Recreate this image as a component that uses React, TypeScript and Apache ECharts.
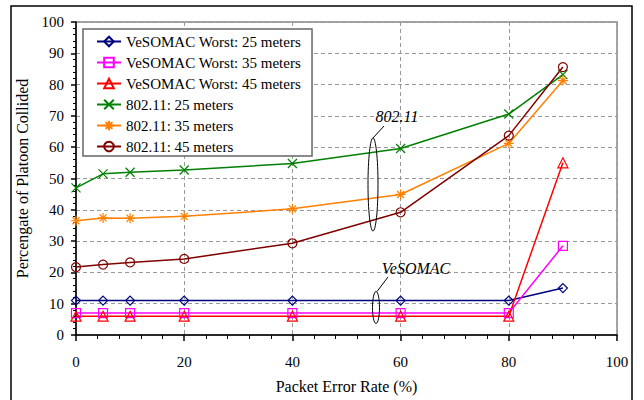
import React, { useEffect, useRef } from "react";
import * as echarts from "echarts";

const packetErrorRates = [0, 5, 10, 20, 40, 60, 80, 90];
const vesomac25 = [11, 11, 11, 11, 11, 11, 11, 15];
const vesomac35 = [7, 7, 7, 7, 7, 7, 7, 28.5];
const vesomac45 = [6, 6, 6, 6, 6, 6, 6, 55];
const wifi25 = [47, 51.5, 52, 52.7, 54.8, 59.6, 70.6, 83.2];
const wifi35 = [36.5, 37.4, 37.3, 37.9, 40.3, 44.9, 61.2, 81.3];
const wifi45 = [21.7, 22.5, 23.2, 24.3, 29.3, 39.2, 63.7, 85.6];

const seriesNames = [
  "VeSOMAC Worst: 25 meters",
  "VeSOMAC Worst: 35 meters",
  "VeSOMAC Worst: 45 meters",
  "802.11: 25 meters",
  "802.11: 35 meters",
  "802.11: 45 meters",
];
const seriesValues = [vesomac25, vesomac35, vesomac45, wifi25, wifi35, wifi45];
const seriesColors = ["#000080", "#FF00FF", "#FF0000", "#008000", "#FF8000", "#800000"];

const FONT = "Times New Roman";

const crossPath = "path://M0,0L10,10M10,0L0,10";
const starPath = "path://M5,0L5,10M0,5L10,5M1.5,1.5L8.5,8.5M8.5,1.5L1.5,8.5";
const seriesSymbols = ["diamond", "rect", "triangle", crossPath, starPath, "circle"];
const seriesSizes = [9, 9, 10, 9, 10, 9];

export default function App() {
  const ref = useRef<HTMLDivElement>(null);
  useEffect(() => {
    if (!ref.current) return;
    const chart = echarts.init(ref.current, null, { renderer: "svg" });
    const series = seriesNames.map((name, i) => {
      const c = seriesColors[i];
      const hollow = i !== 3 && i !== 4;
      return {
        name,
        type: "line",
        data: packetErrorRates.map((x, k) => [x, seriesValues[i][k]]),
        symbol: seriesSymbols[i],
        symbolSize: seriesSizes[i],
        showAllSymbol: true,
        lineStyle: { color: c, width: 1.5 },
        itemStyle: {
          color: hollow ? "rgba(255,255,255,0)" : c,
          borderColor: c,
          borderWidth: 1.2,
        },
        emphasis: { disabled: true },
      };
    });
    chart.setOption({
      animation: false,
      backgroundColor: "#fff",
      textStyle: { fontFamily: FONT },
      grid: {
        left: 76,
        top: 22,
        width: 541,
        height: 313,
        show: true,
        borderColor: "#888",
        borderWidth: 1.5,
        containLabel: false,
      },
      legend: {
        orient: "vertical",
        left: 83,
        top: 29,
        padding: [5, 11, 2, 13],
        itemWidth: 24,
        itemHeight: 12,
        itemGap: 6,
        backgroundColor: "#fff",
        borderColor: "#666",
        borderWidth: 1.5,
        textStyle: { fontFamily: FONT, fontSize: 15, color: "#000", lineHeight: 15 },
        data: seriesNames,
      },
      xAxis: {
        type: "value",
        min: 0,
        max: 100,
        interval: 20,
        name: "Packet Error Rate (%)",
        nameLocation: "middle",
        nameGap: 43,
        nameTextStyle: { fontFamily: FONT, fontSize: 16, color: "#000" },
        axisLine: { lineStyle: { color: "#000", width: 1.5 } },
        axisTick: { show: true, length: 6, lineStyle: { color: "#000", width: 1.5 } },
        minorTick: { show: true, splitNumber: 5, length: 4, lineStyle: { color: "#000", width: 1 } },
        axisLabel: { fontFamily: FONT, fontSize: 15, color: "#000", margin: 19 },
        splitLine: { show: true, lineStyle: { color: "#999", type: [4, 3], width: 1 } },
      },
      yAxis: {
        type: "value",
        min: 0,
        max: 100,
        interval: 10,
        name: "Percengate of Platoon Collided",
        nameLocation: "middle",
        nameGap: 38,
        nameTextStyle: { fontFamily: FONT, fontSize: 16, color: "#000" },
        axisLine: { show: true, lineStyle: { color: "#000", width: 1.5 } },
        axisTick: { show: true, length: 5, lineStyle: { color: "#000", width: 1.5 } },
        minorTick: { show: true, splitNumber: 5, length: 3, lineStyle: { color: "#000", width: 1 } },
        axisLabel: { fontFamily: FONT, fontSize: 15, color: "#000", margin: 12 },
        splitLine: { show: true, lineStyle: { color: "#999", type: [4, 3], width: 1 } },
      },
      graphic: [
        {
          type: "rect",
          shape: { x: 11, y: 6, width: 621, height: 410 },
          style: { fill: "none", stroke: "#000", lineWidth: 1.5 },
          silent: true,
          z: 100,
        },
        {
          type: "ellipse",
          shape: { cx: 373, cy: 184.5, rx: 5, ry: 46.5 },
          style: { fill: "none", stroke: "#000", lineWidth: 1 },
          z: 100,
        },
        {
          type: "line",
          shape: { x1: 373, y1: 138, x2: 384, y2: 126 },
          style: { stroke: "#000", lineWidth: 1 },
          z: 100,
        },
        {
          type: "text",
          x: 397,
          y: 116,
          style: {
            text: "802.11",
            fontFamily: FONT,
            fontSize: 16,
            fontStyle: "italic",
            fill: "#000",
            align: "center",
            verticalAlign: "middle",
          },
          z: 100,
        },
        {
          type: "ellipse",
          shape: { cx: 376, cy: 307.5, rx: 3.5, ry: 16 },
          style: { fill: "none", stroke: "#000", lineWidth: 1 },
          z: 100,
        },
        {
          type: "line",
          shape: { x1: 377, y1: 291.5, x2: 388, y2: 277 },
          style: { stroke: "#000", lineWidth: 1 },
          z: 100,
        },
        {
          type: "text",
          x: 416,
          y: 268,
          style: {
            text: "VeSOMAC",
            fontFamily: FONT,
            fontSize: 16,
            fontStyle: "italic",
            fill: "#000",
            align: "center",
            verticalAlign: "middle",
          },
          z: 100,
        },
      ],
      series,
    });
    return () => chart.dispose();
  }, []);
  return (
    <div
      ref={ref}
      style={{ position: "absolute", left: 0, top: 0, width: 644, height: 400 }}
    />
  );
}
